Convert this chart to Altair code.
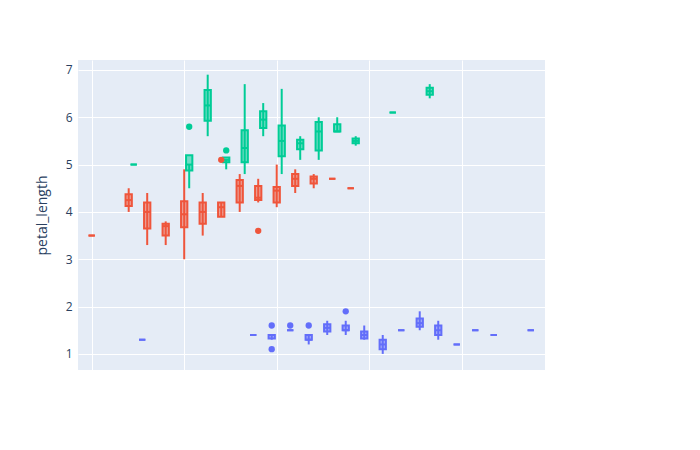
import altair as alt
import pandas as pd

SPECIES = ["Iris-setosa", "Iris-versicolor", "Iris-virginica"]
COLORS = ["#636efa", "#EF553B", "#00cc96"]

setosa_sepal_width = [3.5, 3.0, 3.2, 3.1, 3.6, 3.9, 3.4, 3.4, 2.9, 3.1, 3.7, 3.4, 3.0, 3.0, 4.0, 4.4, 3.9,
                      3.5, 3.8, 3.8, 3.4, 3.7, 3.6, 3.3, 3.4, 3.0, 3.4, 3.5, 3.4, 3.2, 3.1, 3.4, 4.1, 4.2,
                      3.1, 3.2, 3.5, 3.1, 3.0, 3.4, 3.5, 2.3, 3.2, 3.5, 3.8, 3.0, 3.8, 3.2, 3.7, 3.3]
setosa_petal_length = [1.4, 1.4, 1.3, 1.5, 1.4, 1.7, 1.4, 1.5, 1.4, 1.5, 1.5, 1.6, 1.4, 1.1, 1.2, 1.5, 1.3,
                       1.4, 1.7, 1.5, 1.7, 1.5, 1.0, 1.7, 1.9, 1.6, 1.6, 1.5, 1.4, 1.6, 1.6, 1.5, 1.5, 1.4,
                       1.5, 1.2, 1.3, 1.5, 1.3, 1.5, 1.3, 1.3, 1.3, 1.6, 1.9, 1.4, 1.6, 1.4, 1.5, 1.4]
versicolor_sepal_width = [3.2, 3.2, 3.1, 2.3, 2.8, 2.8, 3.3, 2.4, 2.9, 2.7, 2.0, 3.0, 2.2, 2.9, 2.9, 3.1, 3.0,
                          2.7, 2.2, 2.5, 3.2, 2.8, 2.5, 2.8, 2.9, 3.0, 2.8, 3.0, 2.9, 2.6, 2.4, 2.4, 2.7, 2.7,
                          3.0, 3.4, 3.1, 2.3, 3.0, 2.5, 2.6, 3.0, 2.6, 2.3, 2.7, 3.0, 2.9, 2.9, 2.5, 2.8]
versicolor_petal_length = [4.7, 4.5, 4.9, 4.0, 4.6, 4.5, 4.7, 3.3, 4.6, 3.9, 3.5, 4.2, 4.0, 4.7, 3.6, 4.4, 4.5,
                           4.1, 4.5, 3.9, 4.8, 4.0, 4.9, 4.7, 4.3, 4.4, 4.8, 5.0, 4.5, 3.5, 3.8, 3.7, 3.9, 5.1,
                           4.5, 4.5, 4.7, 4.4, 4.1, 4.0, 4.4, 4.6, 4.0, 3.3, 4.2, 4.2, 4.2, 4.3, 3.0, 4.1]
virginica_sepal_width = [3.3, 2.7, 3.0, 2.9, 3.0, 3.0, 2.5, 2.9, 2.5, 3.6, 3.2, 2.7, 3.0, 2.5, 2.8, 3.2, 3.0,
                         3.8, 2.6, 2.2, 3.2, 2.8, 2.8, 2.7, 3.3, 3.2, 2.8, 3.0, 2.8, 3.0, 2.8, 3.8, 2.8, 2.8,
                         2.6, 3.0, 3.4, 3.1, 3.0, 3.1, 3.1, 3.1, 2.7, 3.2, 3.3, 3.0, 2.5, 3.0, 3.4, 3.0]
virginica_petal_length = [6.0, 5.1, 5.9, 5.6, 5.8, 6.6, 4.5, 6.3, 5.8, 6.1, 5.1, 5.3, 5.5, 5.0, 5.1, 5.3, 5.5,
                          6.7, 6.9, 5.0, 5.7, 4.9, 6.7, 4.9, 5.7, 6.0, 4.8, 4.9, 5.6, 5.8, 6.1, 6.4, 5.6, 5.1,
                          5.6, 6.1, 5.6, 5.5, 4.8, 5.4, 5.6, 5.1, 5.1, 5.9, 5.7, 5.2, 5.0, 5.2, 5.4, 5.1]

OFFSETS = {"Iris-setosa": -0.027, "Iris-versicolor": 0.0, "Iris-virginica": 0.027}
HALF = 0.017

frames = []
for sp, sw, pl in [
    ("Iris-setosa", setosa_sepal_width, setosa_petal_length),
    ("Iris-versicolor", versicolor_sepal_width, versicolor_petal_length),
    ("Iris-virginica", virginica_sepal_width, virginica_petal_length),
]:
    frames.append(pd.DataFrame({"species": sp, "sepal_width": sw, "petal_length": pl}))
df = pd.concat(frames, ignore_index=True)
df["xo"] = df["sepal_width"] + df["species"].map(OFFSETS)

FONT = "Open Sans"
TXT = "#2a3f5f"
cscale = alt.Scale(domain=SPECIES, range=COLORS)
color = alt.Color("species:N", scale=cscale,
                  legend=alt.Legend(title="species", symbolType="square", symbolSize=180,
                                    symbolStrokeWidth=2, labelFontSize=12, titleFontSize=12,
                                    labelColor=TXT, titleColor=TXT, titleFontWeight="normal",
                                    offset=12))
xs = alt.Scale(domain=[1.926, 4.45], nice=False, zero=False)
ys = alt.Scale(domain=[0.66, 7.21], nice=False, zero=False)
xax = alt.Axis(values=[2, 2.5, 3, 3.5, 4], format="~g", title="sepal_width", titlePadding=18)
yax = alt.Axis(values=[1, 2, 3, 4, 5, 6, 7], title="petal_length", titlePadding=16)

base = alt.Chart(df).transform_joinaggregate(
    q1="q1(petal_length)", q3="q3(petal_length)", med="median(petal_length)",
    groupby=["species", "xo"],
).transform_calculate(
    lo="datum.q1 - 1.5 * (datum.q3 - datum.q1)",
    hi="datum.q3 + 1.5 * (datum.q3 - datum.q1)",
    xl=f"datum.xo - {HALF}", xr=f"datum.xo + {HALF}",
)

inliers = base.transform_filter(
    "datum.petal_length >= datum.lo && datum.petal_length <= datum.hi"
).transform_aggregate(
    wmin="min(petal_length)", wmax="max(petal_length)",
    groupby=["species", "xo", "xl", "xr", "q1", "q3", "med"],
)

whisker = inliers.mark_rule(strokeWidth=2).encode(
    x=alt.X("xo:Q", scale=xs, axis=xax), y=alt.Y("wmin:Q", scale=ys, axis=yax), y2="wmax:Q",
    color=color,
)
box = inliers.mark_rect(fillOpacity=0.5, strokeWidth=2).encode(
    x="xl:Q", x2="xr:Q", y="q1:Q", y2="q3:Q", color=color,
    stroke=alt.Stroke("species:N", legend=None, scale=cscale),
)
median = inliers.mark_rule(strokeWidth=2).encode(
    x="xl:Q", x2="xr:Q", y="med:Q", color=color,
)
outliers = base.transform_filter(
    "datum.petal_length < datum.lo || datum.petal_length > datum.hi"
).mark_circle(size=40, opacity=1).encode(
    x="xo:Q", y="petal_length:Q", color=color,
)

chart = alt.layer(whisker, box, median, outliers).properties(
    width=467, height=310, autosize=alt.AutoSizeParams(type="none"),
    padding={"left": 70, "top": 52, "right": 0, "bottom": 0},
).configure(font=FONT).configure_view(fill="#E5ECF6", stroke=None).configure_axis(
    grid=True, gridColor="white", gridWidth=1, domain=False, ticks=False,
    labelColor=TXT, titleColor=TXT, labelFontSize=12, titleFontSize=14,
    titleFontWeight="normal", labelPadding=6,
)

chart.save("out.html", embed_options={"renderer": "svg", "actions": False})
